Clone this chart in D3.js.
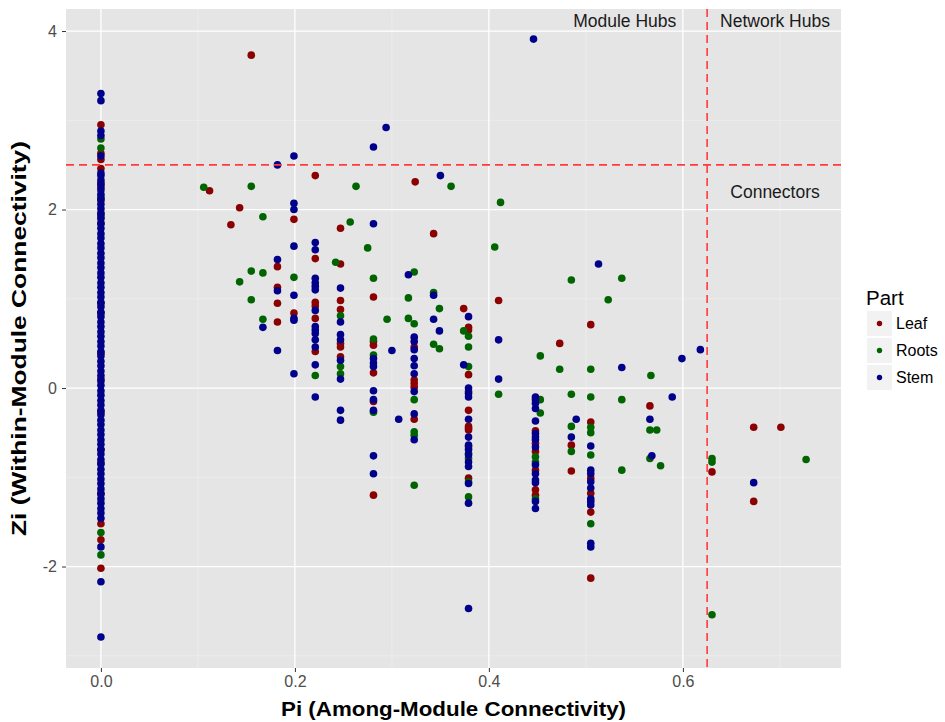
<!DOCTYPE html>
<html lang="en">
<head>
<meta charset="UTF-8">
<title>Pi vs Zi</title>
<script src="https://d3js.org/d3.v7.min.js"></script>
<style>
  body { margin: 0; background: #fff; font-family: "Liberation Sans", Arial, sans-serif; }
  svg { display: block; }
  .tick-label { fill: #4d4d4d; font-size: 16px; }
  .axis-title { fill: #000; font-size: 21px; font-weight: bold; }
  .note { fill: #1a1a1a; font-size: 17.5px; }
</style>
</head>
<body>
<svg width="945" height="722"></svg>
<script>
// Pi (among-module connectivity), Zi (within-module connectivity) per part
const leaf = [
  [0,2.95],[0,2.63],[0,2.56],[0,2.46],[0,2.30],[0,2.25],[0,2.10],[0,1.96],[0,1.85],[0,0.95],
  [0,0.84],[0,0.39],[0,0.10],[0,-0.27],[0,-0.69],[0,-0.84],[0,-1.19],[0,-1.52],[0,-1.70],[0,-2.02],
  [0.155,3.73],[0.112,2.21],[0.221,2.38],[0.324,2.31],[0.143,2.02],[0.199,1.89],[0.134,1.83],
  [0.247,1.79],[0.343,1.73],
  [0.221,1.45],[0.221,0.96],[0.221,0.92],[0.221,0.78],[0.221,0.41],
  [0.182,1.36],[0.182,1.13],[0.182,0.95],[0.182,0.74],
  [0.247,1.39],[0.247,0.98],[0.247,0.88],[0.247,0.50],[0.247,0.46],[0.247,0.35],
  [0.281,1.02],[0.281,0.52],[0.281,0.48],[0.281,0.17],[0.281,-0.15],[0.281,-1.20],
  [0.410,0.98],[0.374,0.89],
  [0.379,0.68],[0.379,0.65],[0.379,0.15],[0.379,-0.04],[0.379,-0.25],[0.379,-0.43],[0.379,-0.45],
  [0.379,-0.47],[0.379,-0.66],[0.379,-1.01],
  [0.199,0.84],
  [0.323,0.46],[0.323,0.09],[0.323,0.05],[0.323,0.01],[0.323,-0.35],
  [0.473,0.50],
  [0.505,0.71],[0.505,-0.38],[0.505,-1.01],[0.505,-1.18],[0.505,-1.39],[0.505,-2.13],
  [0.448,-0.48],[0.448,-0.62],[0.448,-0.71],[0.448,-0.92],[0.448,-1.14],[0.448,-1.20],
  [0.485,-0.64],[0.485,-0.93],
  [0.566,-0.20],[0.630,-0.94],[0.673,-0.44],[0.673,-1.27],[0.701,-0.44]
];

const roots = [
  [0,2.79],[0,2.69],[0,2.14],[0,1.92],[0,-1.62],[0,-1.87],
  [0.106,2.25],[0.155,2.26],[0.263,2.26],[0.361,2.26],[0.412,2.08],[0.167,1.92],[0.257,1.86],
  [0.275,1.57],[0.406,1.58],[0.242,1.41],[0.155,1.31],[0.167,1.29],[0.143,1.19],[0.199,1.24],
  [0.281,1.23],[0.323,1.30],[0.155,0.99],[0.343,1.07],[0.317,1.01],[0.349,0.89],
  [0.221,0.14],
  [0.247,0.81],[0.247,0.24],[0.247,0.16],
  [0.295,0.77],[0.317,0.78],[0.323,0.72],[0.374,0.64],[0.379,0.58],[0.167,0.77],
  [0.281,0.55],[0.281,0.37],[0.281,-0.27],
  [0.323,-0.13],[0.323,-0.49],[0.323,-0.53],[0.323,-1.09],
  [0.343,0.49],[0.349,0.44],
  [0.379,0.46],[0.379,0.24],[0.379,-0.73],[0.379,-0.79],[0.379,-1.05],[0.379,-1.22],
  [0.410,-0.07],[0.453,0.36],[0.473,0.21],[0.485,1.21],[0.537,1.23],[0.523,0.99],[0.505,0.21],
  [0.567,0.14],[0.485,-0.07],[0.505,-0.10],[0.537,-0.13],
  [0.453,-0.13],[0.453,-0.28],
  [0.448,-0.77],[0.448,-0.83],[0.448,-1.24],
  [0.485,-0.43],[0.485,-0.71],
  [0.505,-0.44],[0.505,-0.50],[0.505,-0.75],[0.505,-1.52],
  [0.537,-0.92],[0.566,-0.47],[0.573,-0.47],[0.566,-0.79],[0.577,-0.87],
  [0.630,-0.79],[0.630,-0.83],[0.630,-2.54],
  [0.727,-0.80]
];

const stem = [
  [0,3.30],[0,3.22],[0,2.88],[0,2.83],[0,2.60],[0,2.41],
  [0,2.38],[0,2.33],[0,2.28],[0,2.22],[0,2.17],[0,2.12],[0,2.06],[0,2.01],[0,1.95],[0,1.90],
  [0,1.84],[0,1.79],[0,1.73],[0,1.68],[0,1.62],[0,1.57],[0,1.51],[0,1.46],[0,1.40],[0,1.35],
  [0,1.29],[0,1.24],[0,1.18],[0,1.13],[0,1.07],[0,1.02],[0,0.96],[0,0.91],[0,0.85],[0,0.80],
  [0,0.74],[0,0.69],[0,0.63],[0,0.58],[0,0.52],[0,0.47],[0,0.41],[0,0.36],[0,0.30],[0,0.25],
  [0,0.19],[0,0.14],[0,0.08],[0,0.03],[0,-0.03],[0,-0.08],[0,-0.14],[0,-0.19],[0,-0.25],[0,-0.30],
  [0,-0.36],[0,-0.41],[0,-0.47],[0,-0.52],[0,-0.58],[0,-0.63],[0,-0.69],[0,-0.74],[0,-0.80],[0,-0.85],
  [0,-0.91],[0,-0.96],[0,-1.02],[0,-1.07],[0,-1.13],[0,-1.18],[0,-1.24],[0,-1.29],[0,-1.35],[0,-1.40],
  [0,-1.46],[0,-1.78],[0,-2.17],[0,-2.79],
  [0.446,3.91],[0.294,2.92],[0.281,2.70],[0.182,2.50],[0.199,2.60],[0.350,2.38],
  [0.199,2.07],[0.199,2.00],[0.281,1.84],[0.199,1.59],
  [0.221,1.63],[0.221,1.55],[0.221,1.23],[0.221,1.18],[0.221,1.14],[0.221,1.10],[0.221,0.87],
  [0.221,0.69],[0.221,0.65],[0.221,0.61],[0.221,0.54],[0.221,0.46],[0.221,0.26],[0.221,-0.10],
  [0.182,1.44],[0.182,1.09],[0.182,0.42],
  [0.317,1.27],[0.247,1.12],[0.199,1.04],[0.343,1.04],[0.343,0.77],
  [0.379,0.80],[0.349,0.64],[0.167,0.68],[0.199,0.78],[0.199,0.76],[0.199,0.16],
  [0.247,0.74],[0.247,0.60],[0.247,0.54],[0.247,0.31],[0.247,0.10],[0.247,-0.25],[0.247,-0.36],
  [0.281,0.33],[0.281,0.28],[0.281,0.24],[0.281,-0.03],[0.281,-0.13],[0.281,-0.25],[0.281,-0.76],[0.281,-0.96],
  [0.300,0.42],[0.307,-0.35],
  [0.323,0.57],[0.323,0.52],[0.323,0.43],[0.323,0.33],[0.323,0.25],[0.323,0.16],[0.323,-0.04],
  [0.323,-0.29],[0.323,-0.58],
  [0.379,0.00],[0.379,-0.06],[0.379,-0.10],[0.379,-0.35],[0.379,-0.55],[0.379,-0.64],[0.379,-0.69],
  [0.379,-0.75],[0.379,-0.83],[0.379,-0.88],[0.379,-1.07],[0.379,-1.29],[0.379,-2.47],
  [0.374,0.26],
  [0.410,0.54],[0.410,0.10],
  [0.448,-0.10],[0.448,-0.13],[0.448,-0.17],[0.448,-0.23],[0.448,-0.37],[0.448,-0.51],[0.448,-0.55],
  [0.448,-0.58],[0.448,-0.66],[0.448,-0.86],[0.448,-0.96],[0.448,-1.03],[0.448,-1.06],[0.448,-1.27],[0.448,-1.35],
  [0.490,-0.35],[0.485,-0.55],
  [0.505,-0.65],[0.505,-0.92],[0.505,-0.96],[0.505,-1.05],[0.505,-1.12],[0.505,-1.24],[0.505,-1.27],
  [0.505,-1.31],[0.505,-1.74],[0.505,-1.78],
  [0.513,1.39],[0.537,0.23],[0.599,0.33],[0.618,0.43],[0.589,-0.10],[0.566,-0.35],[0.568,-0.76],[0.673,-1.06]
];

const parts = ["Leaf", "Roots", "Stem"];
const partColors = ["#8b0000", "#006400", "#00008b"];
const xTicks = [0, 0.2, 0.4, 0.6];
const yTicks = [-2, 0, 2, 4];
const xMinor = [0.1, 0.3, 0.5, 0.7];
const yMinor = [-3, -1, 1, 3];
const piCut = 0.625, ziCut = 2.5;
const notes = [
  { text: "Module Hubs", pi: 0.54, zi: 4.11 },
  { text: "Network Hubs", pi: 0.695, zi: 4.11 },
  { text: "Connectors", pi: 0.695, zi: 2.2 }
];

const svg = d3.select("svg");
const panel = { left: 66, right: 841, top: 9, bottom: 668 };

const x = d3.scaleLinear().domain([-0.036, 0.763]).range([panel.left, panel.right]);
const y = d3.scaleLinear().domain([-3.137, 4.247]).range([panel.bottom, panel.top]);
const color = d3.scaleOrdinal().domain(parts).range(partColors);

svg.append("rect")
  .attr("x", panel.left).attr("y", panel.top)
  .attr("width", panel.right - panel.left).attr("height", panel.bottom - panel.top)
  .attr("fill", "#e5e5e5");

// grid
const grid = svg.append("g");
grid.selectAll(".vminor").data(xMinor).enter().append("line")
  .attr("x1", d => x(d)).attr("x2", d => x(d))
  .attr("y1", panel.top).attr("y2", panel.bottom)
  .attr("stroke", "#f2f2f2").attr("stroke-width", 0.6);
grid.selectAll(".hminor").data(yMinor).enter().append("line")
  .attr("y1", d => y(d)).attr("y2", d => y(d))
  .attr("x1", panel.left).attr("x2", panel.right)
  .attr("stroke", "#f2f2f2").attr("stroke-width", 0.6);
grid.selectAll(".vmajor").data(xTicks).enter().append("line")
  .attr("x1", d => x(d)).attr("x2", d => x(d))
  .attr("y1", panel.top).attr("y2", panel.bottom)
  .attr("stroke", "#fff").attr("stroke-width", 1.3);
grid.selectAll(".hmajor").data(yTicks).enter().append("line")
  .attr("y1", d => y(d)).attr("y2", d => y(d))
  .attr("x1", panel.left).attr("x2", panel.right)
  .attr("stroke", "#fff").attr("stroke-width", 1.3);

// axes
const xAxis = svg.append("g")
  .attr("transform", `translate(0,${panel.bottom})`)
  .call(d3.axisBottom(x).tickValues(xTicks).tickFormat(d3.format(".1f")).tickSize(4).tickPadding(4));
const yAxis = svg.append("g")
  .attr("transform", `translate(${panel.left},0)`)
  .call(d3.axisLeft(y).tickValues(yTicks).tickFormat(d => String(d)).tickSize(4).tickPadding(5));
[xAxis, yAxis].forEach(a => {
  a.select(".domain").remove();
  a.selectAll(".tick line").attr("stroke", "#333");
  a.selectAll(".tick text").attr("class", "tick-label").attr("font-family", null).attr("font-size", null).attr("fill", null);
});

// points
const data = [];
[leaf, roots, stem].forEach((arr, i) => arr.forEach(p => data.push({ part: parts[i], pi: p[0], zi: p[1] })));
svg.append("g").selectAll("circle")
  .data(data).enter().append("circle")
  .attr("cx", d => x(d.pi))
  .attr("cy", d => y(d.zi))
  .attr("r", 3.8)
  .attr("fill", d => color(d.part));

// cut lines
svg.append("line")
  .attr("x1", panel.left).attr("x2", panel.right)
  .attr("y1", y(ziCut)).attr("y2", y(ziCut))
  .attr("stroke", "#ff3b3b").attr("stroke-width", 1.6).attr("stroke-dasharray", "8,5");
svg.append("line")
  .attr("x1", x(piCut)).attr("x2", x(piCut))
  .attr("y1", panel.top).attr("y2", panel.bottom)
  .attr("stroke", "#ff3b3b").attr("stroke-width", 1.6).attr("stroke-dasharray", "8,5");

svg.selectAll(".note").data(notes).enter().append("text")
  .attr("class", "note")
  .attr("x", d => x(d.pi)).attr("y", d => y(d.zi))
  .attr("dy", "0.35em")
  .attr("text-anchor", "middle")
  .text(d => d.text);

// axis titles
svg.append("text").attr("class", "axis-title")
  .attr("x", (panel.left + panel.right) / 2).attr("y", 716)
  .attr("text-anchor", "middle")
  .attr("textLength", 345).attr("lengthAdjust", "spacingAndGlyphs")
  .text("Pi (Among-Module Connectivity)");
svg.append("text").attr("class", "axis-title")
  .attr("transform", `translate(26,${(panel.top + panel.bottom) / 2}) rotate(-90)`)
  .attr("text-anchor", "middle")
  .attr("textLength", 395).attr("lengthAdjust", "spacingAndGlyphs")
  .text("Zi (Within-Module Connectivity)");

// legend
const legend = svg.append("g").attr("transform", "translate(866,0)");
legend.append("text").attr("x", 0).attr("y", 305)
  .attr("font-size", 20.5).attr("fill", "#000").text("Part");
const rows = legend.selectAll(".row").data(parts).enter().append("g")
  .attr("transform", (d, i) => `translate(0,${311 + i * 27})`);
rows.append("rect").attr("x", 1).attr("width", 25).attr("height", 25).attr("fill", "#f2f2f2");
rows.append("circle").attr("cx", 13.5).attr("cy", 12.5).attr("r", 2.7).attr("fill", d => color(d));
rows.append("text").attr("x", 30).attr("y", 12.5).attr("dy", "0.35em")
  .attr("font-size", 16).attr("fill", "#000").text(d => d);
</script>
</body>
</html>
